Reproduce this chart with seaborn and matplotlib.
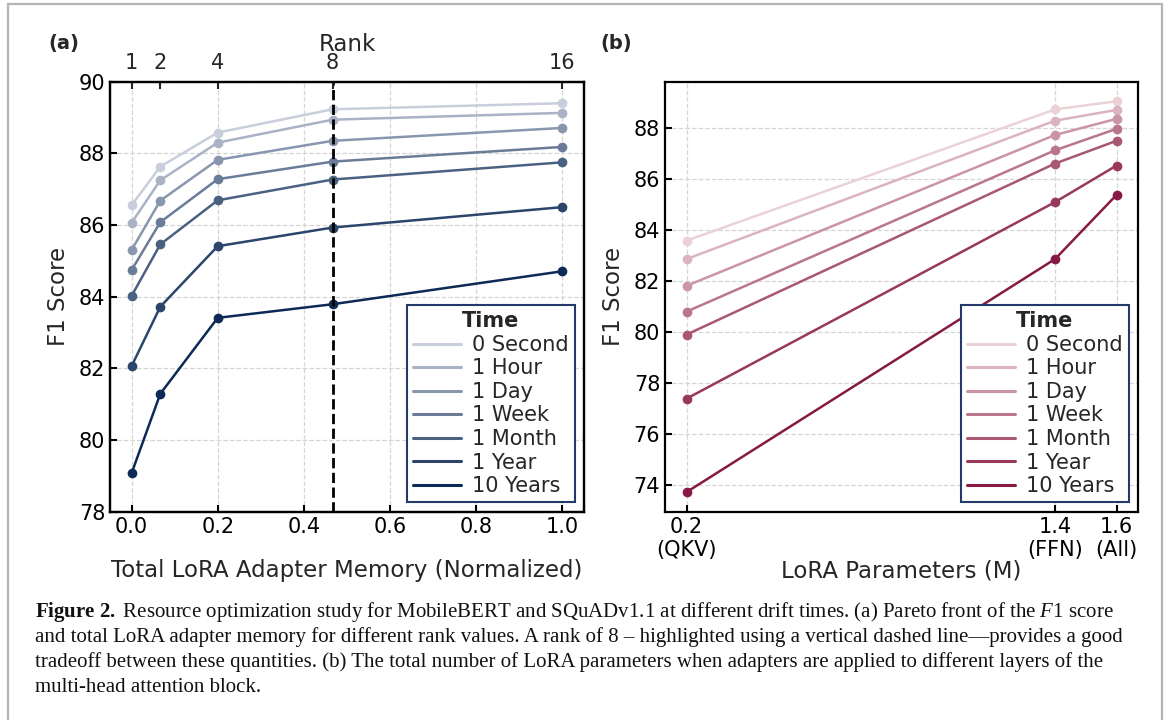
import numpy as np
import pandas as pd
import matplotlib
matplotlib.use("Agg")
import matplotlib.pyplot as plt
import seaborn as sns
from matplotlib.lines import Line2D
from matplotlib.patches import Rectangle

# ---------------- data ----------------
times = ["0 Second", "1 Hour", "1 Day", "1 Week", "1 Month", "1 Year", "10 Years"]

# panel (a)
rank_labels = ["1", "2", "4", "8", "16"]
memory_norm = [0.0, 0.0667, 0.2, 0.4667, 1.0]
f1_a_0s = [86.55, 87.63, 88.58, 89.23, 89.40]
f1_a_1h = [86.06, 87.25, 88.30, 88.94, 89.13]
f1_a_1d = [85.30, 86.68, 87.82, 88.35, 88.71]
f1_a_1w = [84.74, 86.08, 87.28, 87.77, 88.18]
f1_a_1m = [84.02, 85.46, 86.69, 87.27, 87.75]
f1_a_1y = [82.06, 83.72, 85.41, 85.93, 86.50]
f1_a_10y = [79.07, 81.29, 83.41, 83.79, 84.71]
highlight_memory = 0.4667

# panel (b)
lora_params = [0.2, 1.4, 1.6]
param_labels = ["0.2\n(QKV)", "1.4\n(FFN)", "1.6\n(All)"]
f1_b_0s = [83.58, 88.72, 89.04]
f1_b_1h = [82.86, 88.28, 88.70]
f1_b_1d = [81.81, 87.72, 88.35]
f1_b_1w = [80.80, 87.12, 87.96]
f1_b_1m = [79.90, 86.60, 87.49]
f1_b_1y = [77.39, 85.09, 86.52]
f1_b_10y = [73.73, 82.86, 85.37]

series_a = [f1_a_0s, f1_a_1h, f1_a_1d, f1_a_1w, f1_a_1m, f1_a_1y, f1_a_10y]
series_b = [f1_b_0s, f1_b_1h, f1_b_1d, f1_b_1w, f1_b_1m, f1_b_1y, f1_b_10y]

df_a = pd.DataFrame([(t, x, y) for t, ys in zip(times, series_a)
                     for x, y in zip(memory_norm, ys)], columns=["Time", "mem", "f1"])
df_b = pd.DataFrame([(t, x, y) for t, ys in zip(times, series_b)
                     for x, y in zip(lora_params, ys)], columns=["Time", "params", "f1"])

# ---------------- style ----------------
sns.set_theme(style="white")
plt.rcParams.update({
    "font.family": ["DejaVu Sans"],
    "axes.edgecolor": "black",
    "axes.linewidth": 1.6,
    "grid.color": "#d6d6d6",
    "grid.linestyle": "--",
    "grid.linewidth": 0.9,
    "mathtext.fontset": "custom",
    "mathtext.rm": "Liberation Serif",
    "mathtext.bf": "Liberation Serif:bold",
    "mathtext.it": "Liberation Serif:italic",
})

pal_a = sns.blend_palette(["#c8cedb", "#0c2a55"], 7)
pal_b = sns.blend_palette(["#ebd2d7", "#871a44"], 7)
legend_edge = "#22396a"

fig = plt.figure(figsize=(11.7, 7.2), dpi=100)
W, H = 1170, 720
ax_a = fig.add_axes([110 / W, 1 - 511.7 / H, (584 - 110) / W, 430 / H])
ax_b = fig.add_axes([665 / W, 1 - 511.7 / H, (1138 - 665) / W, 430 / H])

TICK = 15
LAB = 16.5

def style_axis(ax):
    ax.grid(True, zorder=0)
    ax.set_axisbelow(True)
    ax.tick_params(direction="in", length=5, width=1.5, labelsize=TICK,
                   bottom=True, left=True, top=False, right=False, colors="black")
    for s in ax.spines.values():
        s.set_linewidth(1.6)
        s.set_color("black")

def make_legend(ax, pal):
    handles = [Line2D([0], [0], color=c, lw=2.2) for c in pal]
    leg = ax.legend(handles, times, title="Time", loc="lower right", fontsize=15,
                    title_fontproperties={"weight": "bold", "size": 15},
                    frameon=True, fancybox=False, edgecolor=legend_edge, framealpha=1,
                    labelspacing=0.17, handlelength=2.3, handletextpad=0.5,
                    borderpad=0.3, borderaxespad=0.45)
    leg.get_frame().set_linewidth(1.5)
    leg.set_zorder(10)
    return leg

# ---------------- panel (a) ----------------
sns.lineplot(data=df_a, x="mem", y="f1", hue="Time", hue_order=times, palette=pal_a,
             marker="o", markersize=7, markeredgewidth=0, linewidth=1.8,
             ax=ax_a, legend=False, zorder=3)
ax_a.set_xlim(-0.05, 1.05)
ax_a.set_ylim(78, 90)
ax_a.set_xticks([0.0, 0.2, 0.4, 0.6, 0.8, 1.0])
ax_a.set_xticklabels(["0.0", "0.2", "0.4", "0.6", "0.8", "1.0"])
ax_a.set_yticks(np.arange(78, 91, 2))
style_axis(ax_a)
ax_a.axvline(highlight_memory, color="black", linestyle="--", linewidth=2, zorder=5)
ax_a.set_xlabel("Total LoRA Adapter Memory (Normalized)", fontsize=LAB)
ax_a.set_ylabel("F1 Score", fontsize=LAB, labelpad=6)

top = ax_a.twiny()
top.set_xlim(ax_a.get_xlim())
top.set_xticks(memory_norm)
top.set_xticklabels(rank_labels)
top.tick_params(direction="in", length=5, width=1.5, labelsize=TICK, top=True,
                bottom=False, pad=6)
top.set_xlabel("Rank", fontsize=LAB, labelpad=2)
top.grid(False)

make_legend(ax_a, pal_a)

# ---------------- panel (b) ----------------
sns.lineplot(data=df_b, x="params", y="f1", hue="Time", hue_order=times, palette=pal_b,
             marker="o", markersize=7, markeredgewidth=0, linewidth=1.8,
             ax=ax_b, legend=False, zorder=3)
ax_b.set_xticks(lora_params)
ax_b.set_xticklabels(param_labels)
ax_b.set_yticks(np.arange(74, 89, 2))
ax_b.margins(x=0.05, y=0.05)
style_axis(ax_b)
ax_b.set_xlabel("LoRA Parameters (M)", fontsize=LAB)
ax_b.set_ylabel("F1 Score", fontsize=LAB, labelpad=6)

make_legend(ax_b, pal_b)

for ax in (ax_a, ax_b):
    ax.xaxis.set_label_coords(0.5, -0.11)

# panel tags
fig.text(48 / W, 1 - 43 / H, "(a)", fontsize=14, fontweight="bold", va="center", ha="left")
fig.text(600 / W, 1 - 43 / H, "(b)", fontsize=14, fontweight="bold", va="center", ha="left")

# caption
cap_lines = [
    r"$\mathbf{Figure\ 2.\ }$Resource optimization study for MobileBERT and SQuADv1.1 at different drift times. (a) Pareto front of the $\mathit{F}$1 score",
    "and total LoRA adapter memory for different rank values. A rank of 8 \u2013 highlighted using a vertical dashed line\u2014provides a good",
    "tradeoff between these quantities. (b) The total number of LoRA parameters when adapters are applied to different layers of the",
    "multi-head attention block.",
]
for i, line in enumerate(cap_lines):
    fig.text(35 / W, 1 - (616.7 + 25.2 * i) / H, line, fontsize=15.0,
             family="Liberation Serif", va="baseline", ha="left", color="#111111")

# light frame around figure
fig.add_artist(Rectangle((8 / W, -0.05), (1162 - 8) / W, (1 - 4 / H) + 0.05,
                         transform=fig.transFigure, fill=False,
                         edgecolor="#b5b5b5", linewidth=1.6, clip_on=False))

fig.savefig("out.png", dpi=100, facecolor="white")
